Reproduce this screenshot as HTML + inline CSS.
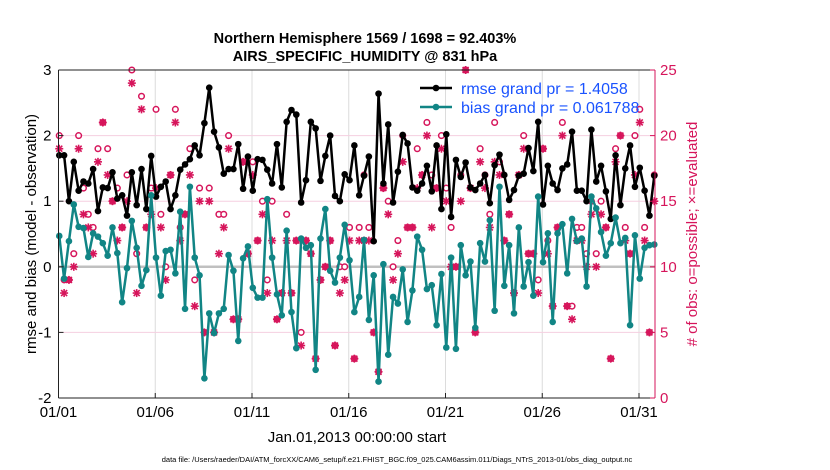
<!DOCTYPE html>
<html><head><meta charset="utf-8">
<style>
html,body{margin:0;padding:0;background:#fff;}
svg{display:block;font-family:"Liberation Sans",Arial,sans-serif;}
</style></head>
<body>
<svg id="chart" width="830" height="470" viewBox="0 0 830 470" xmlns="http://www.w3.org/2000/svg">
  <text x="365" y="43" text-anchor="middle" font-size="14.5" font-weight="bold">Northern Hemisphere 1569 / 1698 = 92.403%</text>
  <text x="365" y="61" text-anchor="middle" font-size="14.5" font-weight="bold">AIRS_SPECIFIC_HUMIDITY @ 831 hPa</text>
  <g id="grid"></g>
  <g id="marks"></g>
  <g id="axes"></g>
  <text transform="translate(36,234) rotate(-90)" text-anchor="middle" font-size="15">rmse and bias (model - observation)</text>
  <text transform="translate(697,234) rotate(-90)" text-anchor="middle" font-size="15" fill="#d6155b"># of obs: o=possible; ×=evaluated</text>
  <text x="357" y="442" text-anchor="middle" font-size="15">Jan.01,2013 00:00:00 start</text>
  <text x="397" y="462" text-anchor="middle" font-size="7.5">data file: /Users/raeder/DAI/ATM_forcXX/CAM6_setup/f.e21.FHIST_BGC.f09_025.CAM6assim.011/Diags_NTrS_2013-01/obs_diag_output.nc</text>
  <g id="legend">
    <line x1="420" y1="88" x2="452" y2="88" stroke="#000" stroke-width="2.5"/>
    <circle cx="436" cy="88" r="3.3" fill="#000"/>
    <text x="461" y="94" font-size="16" fill="#1a53ff">rmse grand pr = 1.4058</text>
    <line x1="420" y1="107" x2="452" y2="107" stroke="#118585" stroke-width="2.5"/>
    <circle cx="436" cy="107" r="3.3" fill="#118585"/>
    <text x="461" y="113" font-size="16" fill="#1a53ff">bias grand pr = 0.061788</text>
  </g>
</svg>
<script>
const rmse = [1.70,1.70,1.00,1.60,1.16,1.30,1.27,1.49,0.85,1.21,1.20,1.44,1.04,1.09,0.78,1.44,0.94,1.49,0.88,1.69,1.07,1.22,1.30,0.88,1.09,1.48,1.56,1.64,1.85,1.70,2.19,2.73,
2.06,1.82,1.42,1.49,1.49,1.87,1.19,1.68,1.16,1.64,1.63,1.48,1.27,1.87,1.21,2.21,2.39,2.32,0.98,1.32,2.21,2.11,1.31,1.69,2.00,1.08,1.00,1.41,1.32,1.85,
1.09,1.39,1.68,0.39,2.64,1.27,2.17,0.98,1.45,2.01,1.88,1.21,1.16,1.27,1.54,1.15,1.85,0.88,2.02,0.76,1.63,1.37,1.59,1.21,1.17,1.27,1.40,0.97,1.55,1.71,
1.40,1.02,1.17,1.39,1.42,1.81,1.46,2.21,0.95,1.54,1.27,1.17,1.50,1.56,2.06,1.16,1.16,1.00,2.09,1.30,1.54,1.15,0.73,1.70,0.94,1.50,1.85,1.22,1.51,1.16,0.78,1.39];
const bias = [0.47,-0.18,0.39,0.95,0.61,0.59,0.15,0.51,0.46,0.36,0.17,0.60,0.21,-0.54,-0.02,0.70,0.29,-0.29,-0.05,1.09,0.14,-0.44,0.24,0.26,-0.10,0.84,-0.64,1.22,0.14,-0.13,-1.70,-0.71,
-1.01,-0.71,-0.64,0.18,-0.06,-1.13,0.13,0.31,-0.32,-0.47,-0.47,1.03,0.14,-0.42,-0.74,0.55,-0.69,-1.24,0.43,0.29,0.33,-1.57,0.43,0.88,-0.06,-0.24,0.14,0.64,0.10,-0.69,
-0.46,0.41,-0.81,-0.13,-1.75,0.04,-1.34,-0.46,-0.56,-0.04,-0.84,-0.36,0.46,0.26,-0.34,-0.28,-0.89,-0.11,-1.23,0.14,-1.25,0.33,-0.13,0.08,-0.93,0.36,0.08,0.71,-0.67,1.22,
-0.29,0.33,-0.71,0.60,-0.30,0.07,-0.44,1.07,0.07,0.51,-0.84,0.51,0.65,-0.10,0.73,0.39,0.43,-0.30,1.07,0.89,0.53,0.17,0.36,0.75,0.36,0.44,-0.89,0.48,-0.18,0.29,0.33,0.34];
const nPossible = [20,9,9,11,20,16,14,13,19,21,19,15,16,13,17,25,11,23,13,16,22,14,10,17,22,13,14,19,9,16,5,16,
5,14,14,20,6,6,18,11,18,12,15,9,15,6,8,14,8,12,5,12,11,3,9,10,12,4,10,10,13,3,
13,17,13,5,2,16,15,10,12,20,13,13,19,17,21,17,16,20,16,13,10,17,25,16,5,19,17,14,21,18,
12,14,8,17,20,11,11,9,19,12,7,13,21,7,7,13,13,11,15,11,15,13,3,19,20,13,11,20,22,13,5,17];
const nEvaluated = [19,8,9,10,19,14,13,11,18,21,17,15,12,13,15,24,8,22,13,14,16,13,9,17,21,12,14,17,7,15,5,15,
5,11,13,19,6,6,18,11,17,12,14,8,12,6,8,12,8,12,4,12,11,3,9,10,12,4,8,9,12,3,
12,12,12,5,2,16,14,9,11,18,13,13,16,17,20,13,16,19,15,10,10,15,25,16,5,18,16,13,18,17,
12,14,8,17,19,11,11,8,19,11,7,13,20,7,6,12,12,10,14,10,14,13,3,18,20,12,11,17,21,12,5,15];
const yTicksLeft = [3,2,1,0,-1,-2];
const yTicksRight = [25,20,15,10,5,0];
const xTickLabels = ["01/01","01/06","01/11","01/16","01/21","01/26","01/31"];
const xTickDays = [0,5,10,15,20,25,30];

const NS="http://www.w3.org/2000/svg";
const L=58.5, R=655, T=70, B=398;
const dayW=19.35, t0=0.04, dt=0.25;
const xT = d => L + d*dayW;
const xI = i => xT(t0 + i*dt);
const yL = v => T + (3-v)*(B-T)/5;
const yR = c => B - c*(B-T)/25;
const MAG="#d6155b", TEAL="#118585";
function mk(tag, attrs, parent){const e=document.createElementNS(NS,tag);for(const k in attrs)e.setAttribute(k,attrs[k]);parent.appendChild(e);return e;}
const grid=document.getElementById('grid'), marks=document.getElementById('marks'), axes=document.getElementById('axes');

// gridlines
xTickDays.forEach((d,k)=>{ if(k===0) return;
  const g=mk('line',{x1:xT(d),x2:xT(d),y1:T,y2:B,stroke:'#dcdcdc','stroke-width':1},grid);
  
  
});
yTicksLeft.forEach(v=>{ if(v===3||v===-2) return;
  const g=mk('line',{x1:L,x2:R,y1:yL(v),y2:yL(v),stroke: v===0?'#c0c0c0':'#f5cfe0','stroke-width': v===0?2.5:1},grid);
  
  
});

// counts
function star(cx,cy){
  const g=mk('g',{stroke:MAG,'stroke-width':1.6},marks);
  
  
  const s=4;
  mk('line',{x1:cx-s,y1:cy,x2:cx+s,y2:cy},g);
  mk('line',{x1:cx,y1:cy-s,x2:cx,y2:cy+s},g);
  mk('line',{x1:cx-s*0.75,y1:cy-s*0.75,x2:cx+s*0.75,y2:cy+s*0.75},g);
  mk('line',{x1:cx-s*0.75,y1:cy+s*0.75,x2:cx+s*0.75,y2:cy-s*0.75},g);
}
nPossible.forEach((c,i)=>{
  const e=mk('circle',{cx:xI(i),cy:yR(c),r:2.8,fill:'#fff',stroke:MAG,'stroke-width':1.5},marks);
  
  
});
nEvaluated.forEach((c,i)=>star(xI(i),yR(c)));

function series(vals,color,name){
  const p=mk('polyline',{points:vals.map((v,i)=>xI(i)+','+yL(v)).join(' '),fill:'none',stroke:color,'stroke-width':2.5,'stroke-linejoin':'round'},marks);
  
  
  vals.forEach((v,i)=>{
    const c=mk('circle',{cx:xI(i),cy:yL(v),r:3.3,fill:color},marks);
    
    
  });
}
series(rmse,'#000','rmse');
series(bias,TEAL,'bias');

// axes frame
let a=mk('line',{x1:L,x2:R,y1:T,y2:T,stroke:'#222','stroke-width':1},axes);
 
a=mk('line',{x1:L,x2:R,y1:B,y2:B,stroke:'#222','stroke-width':1},axes);
 
a=mk('line',{x1:L,x2:L,y1:T,y2:B,stroke:'#222','stroke-width':1},axes);
 
a=mk('line',{x1:R,x2:R,y1:T,y2:B,stroke:MAG,'stroke-width':1},axes);
 

xTickDays.forEach((d,k)=>{
  mk('line',{x1:xT(d),x2:xT(d),y1:B,y2:B-5,stroke:'#222'},axes);
  const t=mk('text',{x:xT(d),y:B+19,'text-anchor':'middle','font-size':15},axes);
  t.textContent=xTickLabels[k];
  
  
});
yTicksLeft.forEach(v=>{
  mk('line',{x1:L,x2:L+5,y1:yL(v),y2:yL(v),stroke:'#222'},axes);
  const t=mk('text',{x:L-7,y:yL(v)+5,'text-anchor':'end','font-size':15},axes);
  t.textContent=String(v);
  
  
});
yTicksRight.forEach(c=>{
  mk('line',{x1:R,x2:R-5,y1:yR(c),y2:yR(c),stroke:MAG},axes);
  const t=mk('text',{x:R+5,y:yR(c)+5,'font-size':15,fill:MAG},axes);
  t.textContent=String(c);
  
  
});
</script>
</body></html>
